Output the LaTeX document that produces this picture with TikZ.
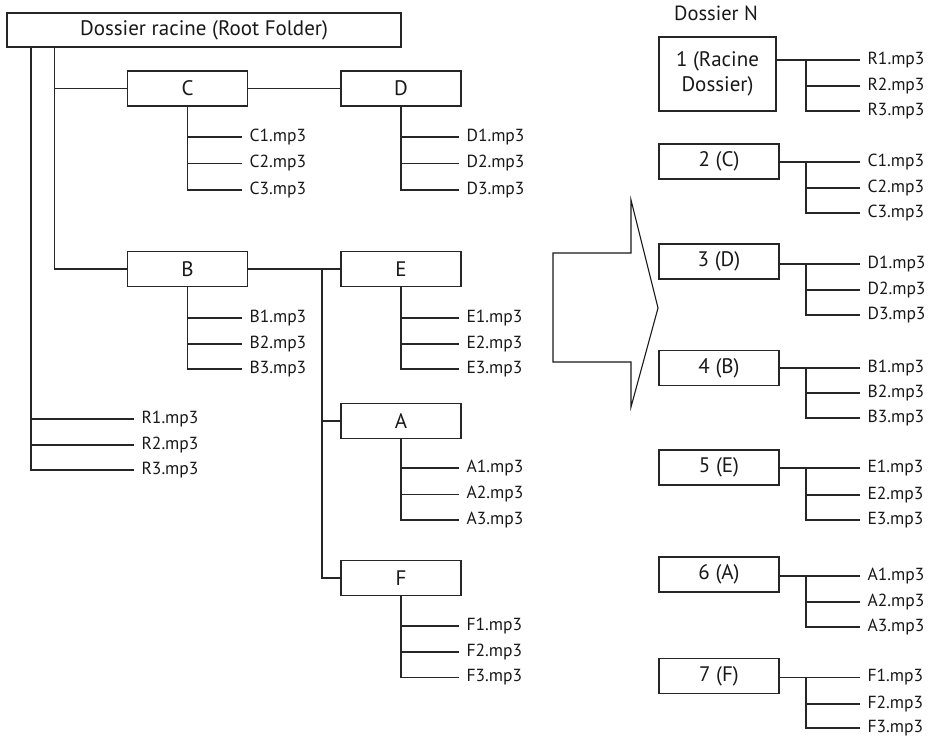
\documentclass[tikz,border=0pt]{standalone}
\usepackage{fontspec}
\setmainfont{PT Sans}
\begin{document}
\begin{tikzpicture}[x=1pt,y=-1pt,
  line width=1.1pt,
  box/.style={draw=black!85, line width=1.1pt, minimum width=120pt, minimum height=35pt, inner sep=0pt, font=\fontsize{21}{25}\selectfont, text=black!90},
  file/.style={anchor=west, inner xsep=7pt, inner ysep=0pt, font=\fontsize{17.5}{20}\selectfont, text=black!90},
  conn/.style={draw=black!85, line width=1.1pt}]
\useasboundingbox (0,0) rectangle (931,736);

% ---------- left tree ----------
\node[box, minimum width=394pt, minimum height=34pt] (root) at (204,30) {Dossier racine (Root Folder)};
\node[box] (C) at (187.5,88.5) {C};
\node[box] (D) at (401,88.5) {D};
\node[box] (B) at (187.5,269) {B};
\node[box] (E) at (401,269) {E};
\node[box] (A) at (401,421) {A};
\node[box] (F) at (401,578) {F};

\foreach \n/\y in {1/137,2/163.5,3/190} {
  \node[file] (c\n) at (242,\y) {C\n.mp3};
  \node[file] (d\n) at (459,\y) {D\n.mp3};
}
\foreach \n/\y in {1/318,2/344,3/369} {
  \node[file] (b\n) at (242,\y) {B\n.mp3};
  \node[file] (e\n) at (459,\y) {E\n.mp3};
}
\foreach \n/\y in {1/468,2/494.5,3/520} {
  \node[file] (a\n) at (459,\y) {A\n.mp3};
}
\foreach \n/\y in {1/626,2/652,3/677.5} {
  \node[file] (f\n) at (459,\y) {F\n.mp3};
}
\foreach \n/\y in {1/419,2/445,3/470} {
  \node[file] (rr\n) at (134,\y) {R\n.mp3};
}

\foreach \n in {1,2,3} {
  \draw[conn] ([xshift=24.5pt]root.south west) |- (rr\n.west);
  \draw[conn] (C.south) |- (c\n.west);
  \draw[conn] (D.south) |- (d\n.west);
  \draw[conn] (B.south) |- (b\n.west);
  \draw[conn] (E.south) |- (e\n.west);
  \draw[conn] (A.south) |- (a\n.west);
  \draw[conn] (F.south) |- (f\n.west);
}
\draw[conn] ([xshift=48pt]root.south west) |- (C.west);
\draw[conn] ([xshift=48pt]root.south west) |- (B.west);
\draw[conn] (C.east) -- (D.west);
\draw[conn] (B.east) -- (E.west);
\coordinate (bj) at (322,269);
\draw[conn] (bj) |- (A.west);
\draw[conn] (bj) |- (F.west);

% ---------- arrow ----------
\draw[conn, draw=black!90, line width=1.1pt, line join=miter]
  (553,253) -- (631,253) -- (631,200) -- (658,308) -- (631,407) -- (631,362) -- (553,362) -- cycle;

% ---------- right list ----------
\node[font=\fontsize{20.5}{24}\selectfont, text=black!90] (title) at (716,13) {Dossier N};
\node[box, minimum width=117pt, minimum height=74pt, align=center] (n1) at (717.5,74) {1 (Racine\\Dossier)};
\node[box] (n2) at (719,161.5) {2 (C)};
\node[box] (n3) at (719,261.5) {3 (D)};
\node[box] (n4) at (719,368) {4 (B)};
\node[box] (n5) at (719,467.5) {5 (E)};
\node[box] (n6) at (719,574.5) {6 (A)};
\node[box] (n7) at (719,676) {7 (F)};

\foreach \k/\L/\ya/\yb/\yc in {1/R/60/86/111, 2/C/162/188/213, 3/D/264/290/315, 4/B/368/393/418, 5/E/468/495/520, 6/A/576/602/627, 7/F/677.5/704/728} {
  \node[file] (m\k a) at (860,\ya) {\L1.mp3};
  \node[file] (m\k b) at (860,\yb) {\L2.mp3};
  \node[file] (m\k c) at (860,\yc) {\L3.mp3};
  \coordinate (j\k) at (806,\ya);
  \draw[conn] (n\k.east |- j\k) -- (m\k a.west);
  \draw[conn] (j\k) |- (m\k b.west);
  \draw[conn] (j\k) |- (m\k c.west);
}
\end{tikzpicture}
\end{document}
